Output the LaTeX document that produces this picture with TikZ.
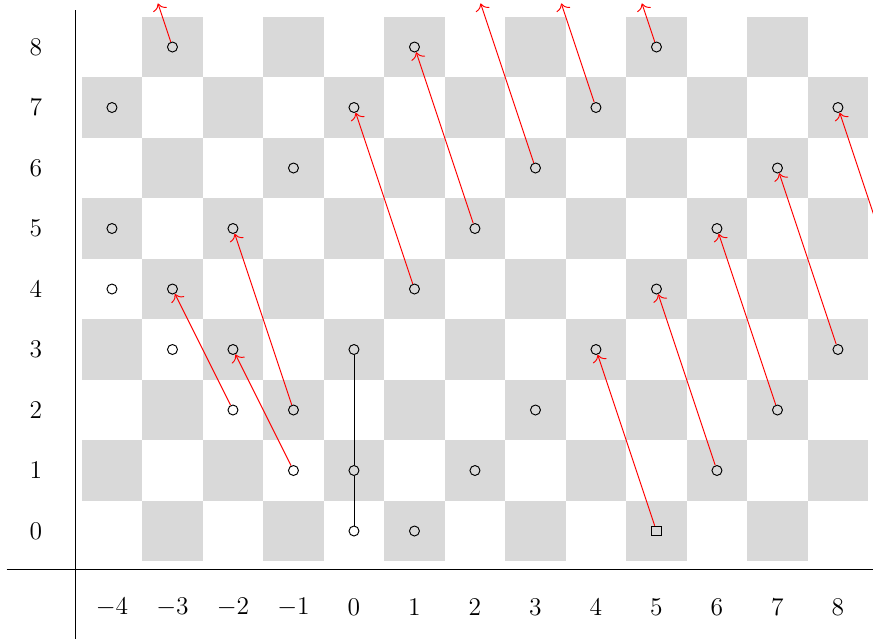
\documentclass[tikz,border=0pt]{standalone}
\usetikzlibrary{calc,arrows.meta}
\begin{document}
\begin{tikzpicture}[x=1cm,y=1cm,
  sq/.style={fill=gray!30},
  pt/.style={circle,draw,inner sep=0pt,minimum size=0.165cm,line width=0.45pt},
  sqpt/.style={rectangle,draw,inner sep=0pt,minimum size=0.16cm,line width=0.45pt},
  arr/.style={-{To[scale=1.25]},red,line width=0.45pt},
  lab/.style={font=\large,inner sep=0pt},
  axis/.style={line width=0.5pt}]
\clip (-5.851,-1.785) rectangle (8.579,8.777);
% checkerboard
\foreach \x in {-4,...,8} {
  \foreach \y in {0,...,8} {
    \pgfmathtruncatemacro\parity{mod(\x+\y+100,2)}
    \ifnum\parity=1 \fill[sq] (\x-0.5,\y-0.5) rectangle ++(1,1); \fi
  }
}
% axes
\coordinate (va) at (-4.61,8.61);
\coordinate (vb) at (-4.61,-1.80);
\coordinate (ha) at (-5.74,-0.63);
\coordinate (hb) at (8.60,-0.63);
\draw[axis] (va) -- (vb);
\draw[axis] (ha) -- (hb);
% labels
\foreach \y in {0,...,8} \node[lab] (ly\y) at (-5.26,\y) {$\y$};
\foreach \x in {-4,...,8} \node[lab] (lx\x) at (\x,-1.26) {$\x$};
% points
\node[pt] (am3y8) at (-3,8) {};
\node[pt] (a1y8) at (1,8) {};
\node[pt] (a5y8) at (5,8) {};
\node[pt] (am4y7) at (-4,7) {};
\node[pt] (a0y7) at (0,7) {};
\node[pt] (a4y7) at (4,7) {};
\node[pt] (a8y7) at (8,7) {};
\node[pt] (am1y6) at (-1,6) {};
\node[pt] (a3y6) at (3,6) {};
\node[pt] (a7y6) at (7,6) {};
\node[pt] (am4y5) at (-4,5) {};
\node[pt] (am2y5) at (-2,5) {};
\node[pt] (a2y5) at (2,5) {};
\node[pt] (a6y5) at (6,5) {};
\node[pt] (am4y4) at (-4,4) {};
\node[pt] (am3y4) at (-3,4) {};
\node[pt] (a1y4) at (1,4) {};
\node[pt] (a5y4) at (5,4) {};
\node[pt] (am3y3) at (-3,3) {};
\node[pt] (am2y3) at (-2,3) {};
\node[pt] (a0y3) at (0,3) {};
\node[pt] (a4y3) at (4,3) {};
\node[pt] (a8y3) at (8,3) {};
\node[pt] (am2y2) at (-2,2) {};
\node[pt] (am1y2) at (-1,2) {};
\node[pt] (a3y2) at (3,2) {};
\node[pt] (a7y2) at (7,2) {};
\node[pt] (am1y1) at (-1,1) {};
\node[pt] (a0y1) at (0,1) {};
\node[pt] (a2y1) at (2,1) {};
\node[pt] (a6y1) at (6,1) {};
\node[pt] (a0y0) at (0,0) {};
\node[pt] (a1y0) at (1,0) {};
\node[sqpt] (a5y0) at (5,0) {};
% free ends
\coordinate (t3) at (2.093,8.72);
\coordinate (t4) at (3.427,8.72);
\coordinate (t5) at (4.760,8.72);
\coordinate (tm3) at (-3.240,8.72);
\coordinate (s9) at (9,4);
% black line
\draw (a0y0) -- (a0y1);
\draw (a0y1) -- (a0y3);
% red arrows
\draw[arr] (am1y1) -- (am2y3);
\draw[arr] (am2y2) -- (am3y4);
\draw[arr] (am1y2) -- (am2y5);
\draw[arr] (a1y4) -- (a0y7);
\draw[arr] (a2y5) -- (a1y8);
\draw[arr] (a3y6) -- (t3);
\draw[arr] (a4y7) -- (t4);
\draw[arr] (a5y8) -- (t5);
\draw[arr] (am3y8) -- (tm3);
\draw[arr] (a5y0) -- (a4y3);
\draw[arr] (a6y1) -- (a5y4);
\draw[arr] (a7y2) -- (a6y5);
\draw[arr] (a8y3) -- (a7y6);
\draw[arr] (s9) -- (a8y7);
\end{tikzpicture}
\end{document}
